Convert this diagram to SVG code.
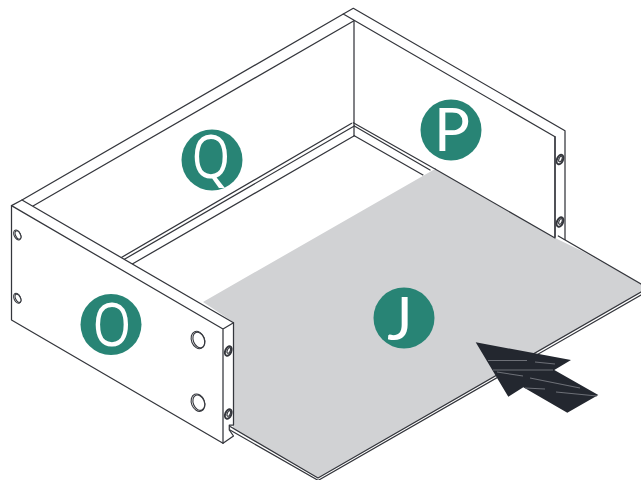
<svg xmlns="http://www.w3.org/2000/svg" width="641" height="480" viewBox="0 0 641 480">
<style>
.l{fill:none;stroke:#34363c;stroke-width:1.25;stroke-linecap:round;stroke-linejoin:round}
.p{fill:#fff;stroke:#34363c;stroke-width:1.25;stroke-linejoin:round}
.b{fill:#288475}
.t{fill:#fff;font-family:"Open Sans","Noto Sans",sans-serif;font-size:60px;text-anchor:middle}
.u{fill:#fff;font-family:Lato,"Open Sans",sans-serif;font-weight:400;font-size:60px;text-anchor:middle}
.h{fill:#fff;stroke:#34363c;stroke-width:1.1}
.d{fill:#fff;stroke:#34363c;stroke-width:2}
.s{fill:none;stroke:#6d7077;stroke-width:1.1}
</style>
<rect width="641" height="480" fill="#fff"/>
<g id="connectors"/>
<g id="panel-q">
<path class="l" d="M343.3 14L22 200M354 20.7L33 206"/>
<path class="l" d="M351.7 123.3L121 257.7M354.3 126L124 259.5M354.3 135.7L132.3 264"/>
<path class="l" d="M354 20.7V135.7"/>
</g>
<g id="panel-p">
<path class="p" d="M555 136.7L343.3 14L353.3 8.3L565 130.7V240L555 238Z"/>
<path class="l" d="M555 136.7V238"/>
<path class="l" d="M353.3 122.7L435 169M354.3 126L430 170M354.3 135.7L423 175"/>
<ellipse class="d" cx="560" cy="159.5" rx="3" ry="5" transform="rotate(22 560 159.5)"/>
<ellipse class="h" cx="560.5" cy="159" rx="1.5" ry="3" transform="rotate(22 560.5 159)"/>
<ellipse class="d" cx="560" cy="222" rx="3" ry="5" transform="rotate(22 560 222)"/>
<ellipse class="h" cx="560.5" cy="221.5" rx="1.5" ry="3" transform="rotate(22 560.5 221.5)"/>
</g>
<g id="sheet-j">
<path d="M203 302L435 169L555 238L558 236L641 284V296L318 480L229.5 431L229.5 425Z" fill="#fff"/>
<path d="M203 302L435 169L555 238L583 251.5L641 284V292.5L318 478L233 429V322Z" fill="#d1d2d4"/>
<path class="l" d="M435 169L555 238M558.3 236L641 284M229.3 426L318 478L641 292M230 430L317.5 480M318 480.5L641 295"/>
</g>
<g id="panel-o">
<path class="p" d="M11.5 205.6L22 200L233.5 322.7V425H229.3V430L233.5 436L223 443.3L11.5 320Z"/>
<path class="l" d="M11.5 205.6L223 329V443.3M223 329L233.5 322.7"/>
<ellipse class="h" cx="17.3" cy="235" rx="3.2" ry="5.2" transform="rotate(-25 17.3 235)"/>
<ellipse class="h" cx="18" cy="235" rx="2.4" ry="4.4" transform="rotate(-25 18 235)"/>
<ellipse class="h" cx="17.3" cy="298.3" rx="3.2" ry="5.2" transform="rotate(-25 17.3 298.3)"/>
<ellipse class="h" cx="18" cy="298.3" rx="2.4" ry="4.4" transform="rotate(-25 18 298.3)"/>
<ellipse class="h" cx="198" cy="340" rx="6.5" ry="9" transform="rotate(-22 198 340)"/>
<ellipse class="h" cx="198.8" cy="340" rx="5.5" ry="8" transform="rotate(-22 198.8 340)"/>
<ellipse class="h" cx="198" cy="402.7" rx="6.5" ry="9" transform="rotate(-22 198 402.7)"/>
<ellipse class="h" cx="198.8" cy="402.7" rx="5.5" ry="8" transform="rotate(-22 198.8 402.7)"/>
<ellipse class="d" cx="228.3" cy="351" rx="3" ry="5" transform="rotate(22 228.3 351)"/>
<ellipse class="h" cx="228.8" cy="350.5" rx="1.5" ry="3" transform="rotate(22 228.8 350.5)"/>
<ellipse class="d" cx="228.3" cy="414" rx="3" ry="5" transform="rotate(22 228.3 414)"/>
<ellipse class="h" cx="228.8" cy="413.5" rx="1.5" ry="3" transform="rotate(22 228.8 413.5)"/>
</g>
<g id="arrow">
<path d="M475.7 342.3L571 360L554.3 370L598.3 395L567.3 412.7L523.3 387.3L508.3 396.7Z" fill="#23272f"/>
<path class="s" d="M488 360.5H527M535 362L555 364M493 370H553M497 372L523 376M530 378L580 388M525 388L545 389M556 392L597 396"/>
</g>
<g id="badge-q"><circle class="b" cx="212" cy="160" r="30.5"/><text class="t" transform="translate(211 178) scale(.82 1)">Q</text></g>
<g id="badge-p"><circle class="b" cx="451" cy="130" r="30.5"/><text class="u" x="452" y="151">P</text></g>
<g id="badge-o"><circle class="b" cx="111" cy="324.5" r="30.5"/><text class="t" transform="translate(112 345.5) scale(.82 1)">O</text></g>
<g id="badge-j"><circle class="b" cx="404" cy="318" r="30.5"/><text class="u" x="400" y="340">J</text></g>
</svg>
